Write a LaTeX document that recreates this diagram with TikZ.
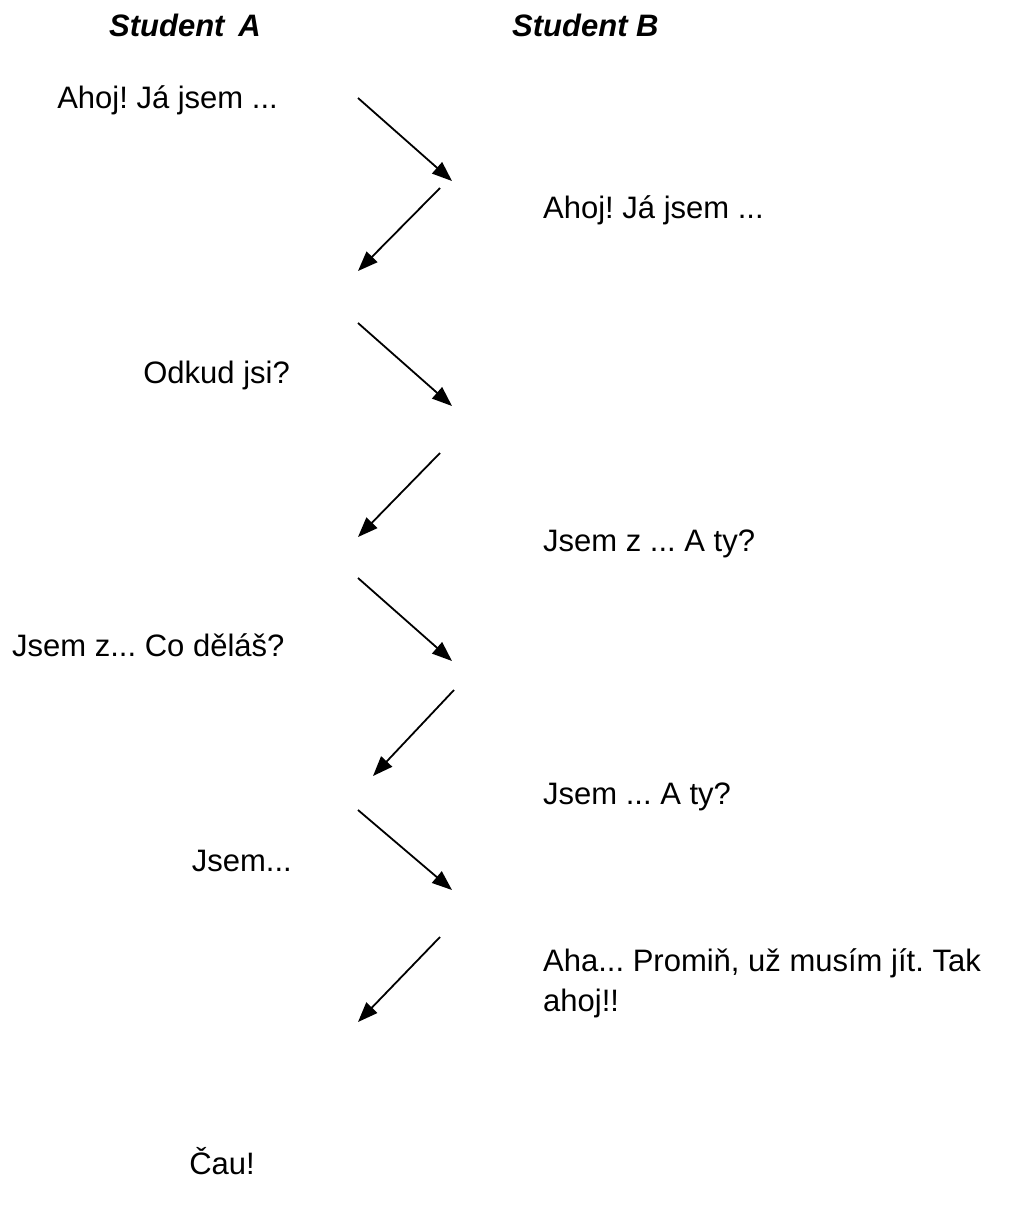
\documentclass[tikz,border=0pt]{standalone}
\usepackage{fontspec}
\setmainfont{Liberation Sans}
\usetikzlibrary{arrows.meta}
\frenchspacing
\begin{document}
\begin{tikzpicture}[x=1pt,y=-1pt,
  txt/.style={inner sep=0pt,font=\frenchspacing\fontsize{31}{40}\selectfont},
  head/.style={inner sep=0pt,font=\fontsize{31}{40}\selectfont\bfseries\itshape},
  say/.style={line width=1.8pt,-{Triangle[length=20pt,width=15pt]}}]
\useasboundingbox (0,0) rectangle (1012,1211);
% headers
\node[head,anchor=base] (hA) at (185,36) {Student\hspace{0.45em}A};
\node[head,anchor=base west] (hB) at (512,36) {Student B};
% Student A lines
\node[txt,anchor=base east] (a1) at (278,108) {Ahoj! Já jsem ...};
\node[txt,anchor=base east] (a2) at (290,383) {Odkud jsi?};
\node[txt,anchor=base west] (a3) at (12,656) {Jsem z... Co děláš?};
\node[txt,anchor=base east] (a4) at (292,871) {Jsem...};
\node[txt,anchor=base east] (a5) at (255,1174) {Čau!};
% Student B lines
\node[txt,anchor=base west] (b1) at (543,218) {Ahoj! Já jsem ...};
\node[txt,anchor=base west] (b2) at (543,551) {Jsem z ... A ty?};
\node[txt,anchor=base west] (b3) at (543,804) {Jsem ... A ty?};
\node[txt,anchor=base west] (b4) at (543,971) {Aha... Promiň, už musím jít. Tak};
\node[txt,anchor=base west] (b4b) at (543,1011) {ahoj!!};
% arrow end points
\coordinate (p1s) at (358,98);  \coordinate (p1e) at (452,181);
\coordinate (p2s) at (440,188); \coordinate (p2e) at (358,271);
\coordinate (p3s) at (358,323); \coordinate (p3e) at (452,406);
\coordinate (p4s) at (440,453); \coordinate (p4e) at (358,537);
\coordinate (p5s) at (358,578); \coordinate (p5e) at (452,661);
\coordinate (p6s) at (454,690); \coordinate (p6e) at (373,776);
\coordinate (p7s) at (358,810); \coordinate (p7e) at (452,890);
\coordinate (p8s) at (440,937); \coordinate (p8e) at (358,1022);
\draw[say] (p1s) -- (p1e);
\draw[say] (p2s) -- (p2e);
\draw[say] (p3s) -- (p3e);
\draw[say] (p4s) -- (p4e);
\draw[say] (p5s) -- (p5e);
\draw[say] (p6s) -- (p6e);
\draw[say] (p7s) -- (p7e);
\draw[say] (p8s) -- (p8e);
\end{tikzpicture}
\end{document}
